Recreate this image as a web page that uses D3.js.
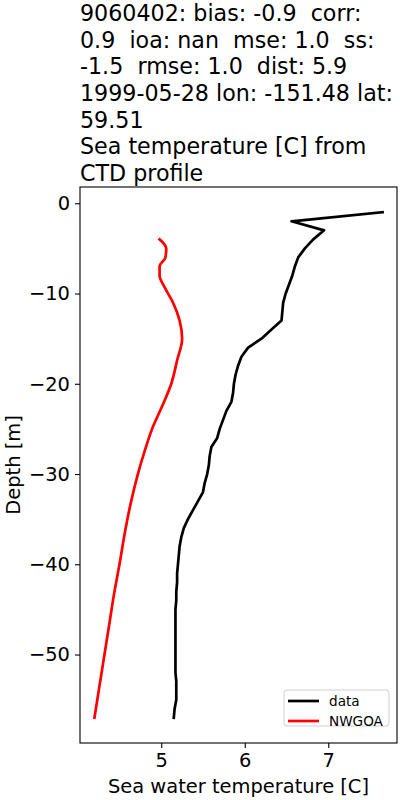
<!DOCTYPE html>
<html><head><meta charset="utf-8">
<script src="https://cdn.jsdelivr.net/npm/d3@7"></script>
<style>body{margin:0;background:#fff}svg{display:block;font-family:"DejaVu Sans",sans-serif}text{white-space:pre}</style>
</head><body>
<svg id="c" width="400" height="800"></svg>
<script>
const titleLines = ["9060402: bias: -0.9  corr:", "0.9  ioa: nan  mse: 1.0  ss:", "-1.5  rmse: 1.0  dist: 5.9", "1999-05-28 lon: -151.48 lat:", "59.51", "Sea temperature [C] from", "CTD profile"];
const dataDepth = [-1,-2,-3,-4,-5,-6,-7,-8,-9,-10,-11,-12,-13,-14,-15,-16,-17,-18,-19,-20,-21,-22,-23,-24,-25,-26,-27,-28,-29,-30,-31,-32,-33,-34,-35,-36,-37,-38,-39,-40,-41,-42,-43,-44,-45,-46,-47,-48,-49,-50,-51,-52,-53,-54,-55,-56,-57];
const dataTemp = [7.65,6.56,6.95,6.82,6.72,6.64,6.60,6.57,6.53,6.49,6.46,6.45,6.44,6.32,6.20,6.04,5.96,5.92,5.89,5.87,5.86,5.84,5.78,5.74,5.70,5.67,5.60,5.58,5.57,5.55,5.52,5.50,5.44,5.38,5.32,5.27,5.24,5.22,5.21,5.20,5.19,5.19,5.18,5.18,5.17,5.17,5.17,5.17,5.17,5.17,5.17,5.17,5.18,5.18,5.18,5.16,5.15];
const modelDepth = [-4,-5,-6,-7,-8,-9.3,-11,-13,-15,-17.4,-20,-22.5,-25,-27.5,-30,-33,-36.7,-40,-43,-46.5,-50,-53.5,-57];
const modelTemp = [4.98,5.06,5.05,4.98,4.98,5.04,5.14,5.22,5.25,5.19,5.12,5.01,4.89,4.80,4.72,4.64,4.56,4.50,4.44,4.38,4.32,4.26,4.20];
const xTicks = [5,6,7];
const yTicks = [0,-10,-20,-30,-40,-50];

const svg = d3.select("#c");
const L = 80, R = 397, T = 187, B = 743;
const FS = 19.44, TFS = 22.2;
const x = d3.scaleLinear().domain([4.027, 7.823]).range([L, R]);
const y = d3.scaleLinear().domain([-59.8, 1.8]).range([B, T]);

// title
const tt = svg.append("text").attr("x", 80).attr("font-size", TFS).attr("fill", "#000");
titleLines.forEach((s, i) => tt.append("tspan").attr("x", 80).attr("y", 21 + i * 26.65).text(s));

// lines
const lineD = d3.line().x(d => x(d[1])).y(d => y(d[0]));
svg.append("path").datum(dataDepth.map((d, i) => [d, dataTemp[i]]))
  .attr("d", lineD).attr("fill", "none").attr("stroke", "#000").attr("stroke-width", 2.7).attr("stroke-linejoin", "round").attr("stroke-linecap", "square");
svg.append("path").datum(modelDepth.map((d, i) => [d, modelTemp[i]]))
  .attr("d", lineD.curve(d3.curveMonotoneY)).attr("fill", "none").attr("stroke", "#ff0000").attr("stroke-width", 2.7).attr("stroke-linejoin", "round").attr("stroke-linecap", "square");

// axes
const xa = svg.append("g").attr("transform", `translate(0,${B})`)
  .call(d3.axisBottom(x).tickValues(xTicks).tickFormat(d3.format("d")).tickSize(5).tickPadding(5.5));
const ya = svg.append("g").attr("transform", `translate(${L},0)`)
  .call(d3.axisLeft(y).tickValues(yTicks).tickFormat(d => d < 0 ? "\u2212" + Math.abs(d) : d).tickSize(5).tickPadding(5));
[xa, ya].forEach(g => {
  g.select(".domain").remove();
  g.selectAll("line").attr("stroke", "#000").attr("stroke-width", 1.1);
  g.selectAll("text").attr("font-size", FS).attr("fill", "#000").attr("font-family", "DejaVu Sans");
});
svg.append("rect").attr("x", L).attr("y", T).attr("width", R - L).attr("height", B - T)
  .attr("fill", "none").attr("stroke", "#000").attr("stroke-width", 1.1);

svg.append("text").attr("x", (L + R) / 2).attr("y", 793).attr("text-anchor", "middle").attr("font-size", FS).text("Sea water temperature [C]");
svg.append("text").attr("transform", `translate(20,${(T + B) / 2}) rotate(-90)`).attr("text-anchor", "middle").attr("font-size", FS).text("Depth [m]");

// legend
const lg = svg.append("g");
lg.append("rect").attr("x", 284).attr("y", 690).attr("width", 105).attr("height", 36).attr("rx", 3)
  .attr("fill", "#fff").attr("fill-opacity", 0.8).attr("stroke", "#d0d0d0");
[["data", "#000"], ["NWGOA", "#ff0000"]].forEach((e, i) => {
  lg.append("line").attr("x1", 288).attr("x2", 319).attr("y1", 701 + i * 20).attr("y2", 701 + i * 20).attr("stroke", e[1]).attr("stroke-width", 2.7);
  lg.append("text").attr("x", 329).attr("y", 706 + i * 20).attr("font-size", 13.6).text(e[0]);
});
</script>
</body></html>
